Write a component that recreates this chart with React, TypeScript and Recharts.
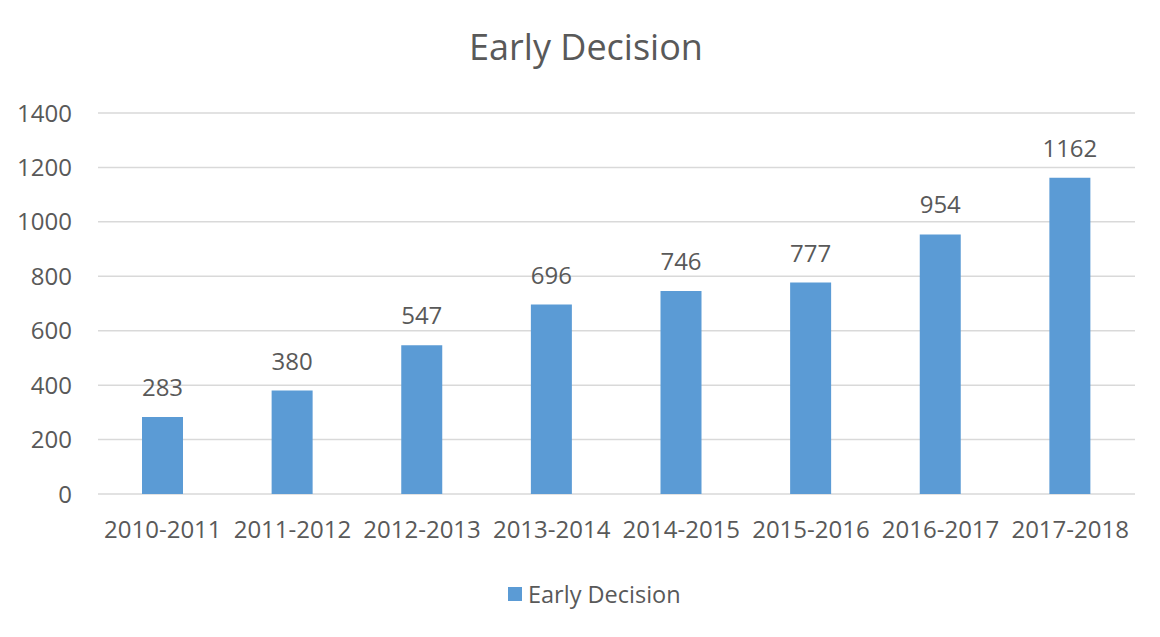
import React from "react";
import { BarChart, Bar, XAxis, YAxis, CartesianGrid, LabelList, Legend } from "recharts";

const categories = ["2010-2011", "2011-2012", "2012-2013", "2013-2014", "2014-2015", "2015-2016", "2016-2017", "2017-2018"];
const earlyDecision = [283, 380, 547, 696, 746, 777, 954, 1162];
const yTicks = [0, 200, 400, 600, 800, 1000, 1200, 1400];
const seriesName = "Early Decision";
const title = "Early Decision";

const data = categories.map((c, i) => ({ category: c, value: earlyDecision[i] }));

const FONT = "'Open Sans', sans-serif";
const TEXT = "#595959";
const BLUE = "#5b9bd5";

const LegendContent = () => (
  <div style={{ display: "flex", alignItems: "center", height: 30, paddingLeft: 508, fontFamily: FONT, fontSize: 23.5, color: TEXT }}>
    <span style={{ display: "inline-block", width: 14, height: 14, background: BLUE, marginRight: 6 }} />
    <span>{seriesName}</span>
  </div>
);

export default function App() {
  return (
    <div style={{ position: "absolute", left: 0, top: 0, width: 1160, height: 637, background: "#fff" }}>
      <div style={{ position: "absolute", left: 0, width: 1172, top: 22, textAlign: "center", fontFamily: FONT, fontSize: 36, color: TEXT, lineHeight: "50px" }}>
        {title}
      </div>
      <BarChart width={1160} height={637} data={data} margin={{ top: 113, right: 25, bottom: 28, left: 0 }}>
        <CartesianGrid vertical={false} stroke="#d9d9d9" strokeWidth={1.5} />
        <XAxis
          dataKey="category"
          axisLine={false}
          tickLine={false}
          tickSize={0}
          tickMargin={27}
          height={85}
          interval={0}
          tick={{ fill: TEXT, fontSize: 24, fontFamily: FONT }}
        />
        <YAxis
          domain={[0, 1400]}
          ticks={yTicks}
          axisLine={false}
          tickLine={false}
          tickSize={0}
          tickMargin={26}
          width={98}
          tick={{ fill: TEXT, fontSize: 24, fontFamily: FONT }}
        />
        <Legend verticalAlign="bottom" wrapperStyle={{ left: 0, width: 1160, height: 30 }} content={<LegendContent />} />
        <Bar dataKey="value" name={seriesName} fill={BLUE} barSize={41} isAnimationActive={false}>
          <LabelList dataKey="value" position="top" offset={21} fill={TEXT} fontSize={24} fontFamily={FONT} />
        </Bar>
      </BarChart>
    </div>
  );
}
